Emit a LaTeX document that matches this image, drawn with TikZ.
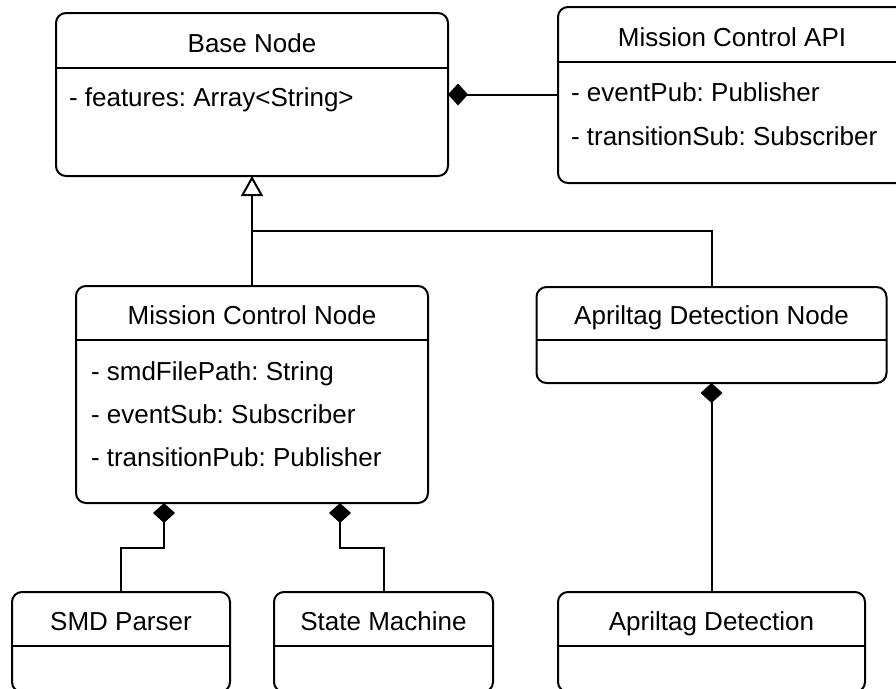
\documentclass[tikz,border=0pt]{standalone}
\usepackage{fontspec}
\setmainfont{Liberation Sans}
\usetikzlibrary{arrows.meta}
\frenchspacing
\begin{document}
\begin{tikzpicture}[x=1pt,y=-1pt,line width=2pt,
  font=\fontsize{26pt}{31pt}\selectfont,
  umlbox/.style={draw, rounded corners=10pt, inner sep=0pt, outer sep=0pt, fill=white},
  clstitle/.style={anchor=base, inner sep=0pt},
  clsattr/.style={anchor=base west, inner sep=0pt},
  comp/.style={{Diamond[length=20pt,width=22pt]}-},
  inh/.style={{Triangle[open,length=20pt,width=22pt,fill=white]}-}]
\useasboundingbox (0,0) rectangle (896,688);
\clip (0,0) rectangle (896,688);

% class boxes
\node[umlbox, minimum width=392pt, minimum height=163pt] (base) at (252,94.5) {};
\node[umlbox, minimum width=348pt, minimum height=176pt] (api) at (732,95) {};
\node[umlbox, minimum width=352pt, minimum height=217pt] (mcn) at (252,394.5) {};
\node[umlbox, minimum width=350pt, minimum height=96pt] (adn) at (711.5,335) {};
\node[umlbox, minimum width=218pt, minimum height=100pt] (smd) at (121,642) {};
\node[umlbox, minimum width=219pt, minimum height=100pt] (sm) at (383.5,642) {};
\node[umlbox, minimum width=307pt, minimum height=100pt] (ad) at (711.5,642) {};

% dividers
\draw (base.west |- 0,68) -- (base.east |- 0,68);
\draw (api.west |- 0,62) -- (api.east |- 0,62);
\draw (mcn.west |- 0,340) -- (mcn.east |- 0,340);
\draw (adn.west |- 0,340) -- (adn.east |- 0,340);
\draw (smd.west |- 0,646) -- (smd.east |- 0,646);
\draw (sm.west |- 0,646) -- (sm.east |- 0,646);
\draw (ad.west |- 0,646) -- (ad.east |- 0,646);

% titles
\node[clstitle] (baseT) at (252,52) {Base Node};
\node[clstitle] (apiT) at (732,46.5) {Mission Control API};
\node[clstitle] (mcnT) at (252,324) {Mission Control Node};
\node[clstitle] (adnT) at (711.5,324) {Apriltag Detection Node};
\node[clstitle] (smdT) at (121,630) {SMD Parser};
\node[clstitle] (smT) at (383.5,630) {State Machine};
\node[clstitle] (adT) at (711.5,630) {Apriltag Detection};

% attributes
\node[clsattr] (baseA1) at (68,106) {- features: Array<String>};
\node[clsattr] (apiA1) at (570,101) {- eventPub: Publisher};
\node[clsattr] (apiA2) at (570,145) {- transitionSub: Subscriber};
\node[clsattr] (mcnA1) at (90,380) {- smdFilePath: String};
\node[clsattr] (mcnA2) at (90,423) {- eventSub: Subscriber};
\node[clsattr] (mcnA3) at (90,466) {- transitionPub: Publisher};

% connectors
\draw[comp] (base.east) -- (base.east -| api.west);
\coordinate (junc) at (252,231);
\draw[inh] (base.south) -- (mcn.north);
\draw (junc) -| (adn.north);
\draw[comp] ([xshift=88pt]mcn.south west) -- ++(0,45) -| (smd.north);
\draw[comp] ([xshift=-88pt]mcn.south east) -- ++(0,45) -| (sm.north);
\draw[comp] (adn.south) -- (ad.north);
\end{tikzpicture}
\end{document}
